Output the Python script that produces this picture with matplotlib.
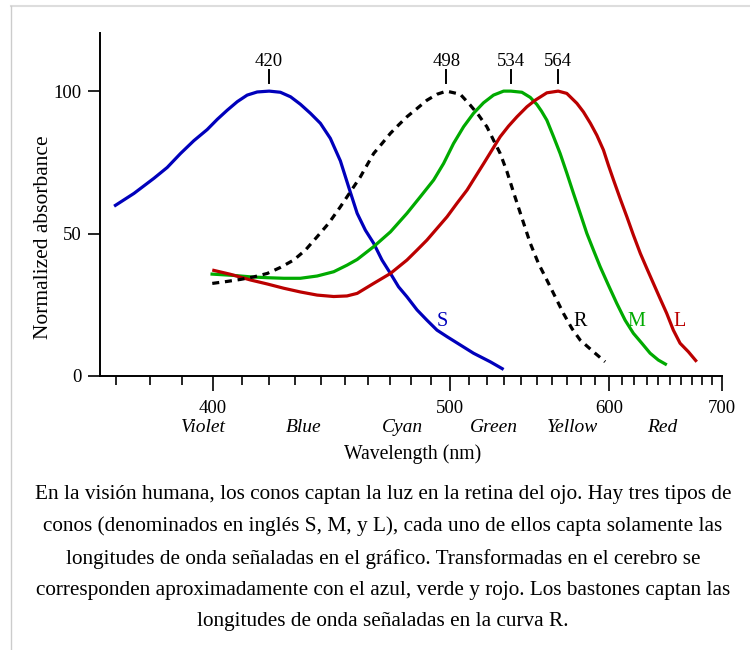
import numpy as np
import matplotlib
matplotlib.use("Agg")
from matplotlib import pyplot as plt
from matplotlib.lines import Line2D
from matplotlib.transforms import blended_transform_factory

plt.rcParams["font.family"] = ["Liberation Serif", "DejaVu Serif"]

# wavelength (nm) / normalized absorbance
s_nm = [369.4, 375.2, 381.2, 385.3, 389.5, 393.8, 398.2, 401.6, 405, 408.5, 412, 415.6,
        420, 424.2, 428.1, 431.9, 435.9, 439.9, 444, 448.2, 451.7, 455.4, 459, 462.7,
        466.5, 470.4, 474.2, 478.2, 483.1, 488, 493.1, 498.3, 505.3, 512.5, 521.9, 529.7]
s_abs = [59.6, 64.1, 69.4, 73.2, 78.1, 82.6, 86.5, 90.1, 93.3, 96.3, 98.6, 99.7,
         100, 99.6, 98, 95.4, 92.2, 88.7, 83.4, 75.5, 66.4, 57.1, 51.2, 46.6,
         40.7, 36, 31.3, 27.8, 23.2, 19.6, 16.1, 13.8, 10.9, 8, 5, 2.3]

r_nm = [399.9, 405, 409.6, 414.4, 419.3, 424.2, 429.3, 433.9, 438.6, 443.3, 448.2, 452.5,
        456.8, 459, 462.7, 466.5, 470.4, 474.2, 478.2, 483.1, 488, 493.1, 498, 505.3,
        510.7, 515.3, 520, 523.8, 527.7, 531.7, 535.6, 540.7, 545.9, 551.1, 556.5, 562,
        567.5, 573.3, 579.1, 588.6, 597.2]
r_abs = [32.5, 33.2, 33.9, 34.8, 36, 38.1, 40.7, 44.2, 48.9, 53.6, 59.4, 64.7,
         69.9, 73, 78.1, 81.6, 85.2, 88.1, 91, 93.9, 96.8, 98.9, 100, 98.9,
         95.1, 91.6, 87.5, 82.8, 78.1, 71.7, 64.5, 55.5, 46.6, 39.5, 33.7, 27.8,
         22, 16.7, 12.6, 8.5, 5]

m_nm = [399.3, 407.3, 413.2, 419.3, 425.5, 431.9, 438.6, 445.4, 451, 455.4, 462.7, 470.4,
        478.2, 484.7, 491.4, 496.5, 501.7, 507.1, 512.5, 518.1, 523.8, 529.7, 534, 540.7,
        545.9, 550.1, 553, 556.5, 560.9, 565.3, 569.9, 574.4, 579.1, 583.8, 588.6, 593.5,
        599.7, 606.1, 612.6, 619.2, 626.1, 633, 640, 647.4]
m_abs = [35.8, 35.3, 34.8, 34.5, 34.3, 34.3, 35.1, 36.6, 38.9, 40.9, 45.4, 50.6,
         57.1, 62.9, 68.8, 74.6, 81.6, 87.5, 92.2, 95.9, 98.6, 100, 100, 99.6,
         97.8, 95.3, 93, 89.8, 84, 78.1, 71.1, 64.1, 57.1, 50.1, 44.2, 38.4,
         31.9, 25.5, 19.6, 15, 11.5, 8, 5.6, 3.9]

l_nm = [399.9, 406.1, 413.2, 419.3, 425.5, 431.9, 438.6, 445.4, 451, 455.4, 462.7, 470.4,
        478.2, 483.1, 488, 493.1, 498.3, 503.5, 509, 513.5, 518.2, 522.9, 527.7, 532.6,
        537.7, 543.8, 549, 556.5, 564, 569.8, 576.8, 581.4, 586.4, 591.1, 596, 599.7,
        603.6, 608.7, 614, 619.2, 624.9, 630.2, 635.8, 641.4, 647.3, 653.2, 659.3, 667,
        674.9]
l_abs = [37.2, 35.7, 33.7, 32.3, 30.8, 29.5, 28.4, 27.9, 28.1, 29, 32.5, 36,
         40.7, 44.2, 47.7, 51.8, 55.9, 60.6, 65.3, 69.9, 74.6, 79.3, 84, 87.7,
         91, 94.5, 96.8, 99.4, 100, 99.2, 95.7, 92.7, 88.7, 84.5, 79.3, 74,
         68.8, 62.3, 55.9, 49.5, 43, 37.8, 32.5, 27.3, 22, 16.1, 11.5, 8.5,
         5]

peaks = [420, 498, 534, 564]
curve_names = ["S", "R", "M", "L"]
name_nm = [496, 579, 622, 659]
colour_names = ["Violet", "Blue", "Cyan", "Green", "Yellow", "Red"]
colour_nm = [397, 433, 476, 524, 573.5, 643]

caption = ("En la visión humana, los conos captan la luz en la retina del ojo. Hay tres tipos de\n"
           "conos (denominados en inglés S, M, y L), cada uno de ellos capta solamente las\n"
           "longitudes de onda señaladas en el gráfico. Transformadas en el cerebro se\n"
           "corresponden aproximadamente con el azul, verde y rojo. Los bastones captan las\n"
           "longitudes de onda señaladas en la curva R.")


def fwd(x):
    x = np.asarray(x, dtype=float)
    with np.errstate(divide="ignore", invalid="ignore"):
        return -1.0 / x


fig = plt.figure(figsize=(7.5, 6.5), dpi=100)
ax = fig.add_axes([100 / 750, 1 - 376 / 650, 622 / 750, 343 / 650])

blue, green, red = "#0000bb", "#00aa00", "#bb0000"
ax.plot(s_nm, s_abs, color=blue, lw=2.3, solid_capstyle="butt", solid_joinstyle="round")
ax.plot(m_nm, m_abs, color=green, lw=2.3, solid_capstyle="butt", solid_joinstyle="round")
ax.plot(l_nm, l_abs, color=red, lw=2.3, solid_capstyle="butt", solid_joinstyle="round")
ax.plot(r_nm, r_abs, color="black", lw=2.3, linestyle=(0, (2.2, 1.8)))

ax.set_xscale("function", functions=(fwd, fwd))
ax.set_xlim(365.4, 700)
ax.set_ylim(0, 120.4)

ax.set_xticks([400, 500, 600, 700])
ax.set_xticks(np.arange(370, 700, 10), minor=True)
ax.set_yticks([0, 50, 100])
ax.tick_params(axis="x", which="major", length=10.5, width=1.2, labelsize=13.5, pad=7)
ax.tick_params(axis="x", which="minor", length=6.5, width=1.2)
ax.tick_params(axis="y", length=9, width=1.2, labelsize=13.5, pad=4)
for side in ("top", "right"):
    ax.spines[side].set_visible(False)
for side in ("left", "bottom"):
    ax.spines[side].set_linewidth(1.4)

ax.set_ylabel("Normalized absorbance", fontsize=15.5)
ax.yaxis.set_label_coords((53 - 100) / 622, (376 - 237) / 343)

# peak markers above the curves
for p in peaks:
    ax.plot([p, p], [103, 107.3], color="black", lw=1.4, clip_on=False)
    ax.text(p, 110.4, str(p), ha="center", va="center", fontsize=13.5)

for name, x, c in zip(curve_names, name_nm, [blue, "black", green, red]):
    ax.text(x, 19, name, ha="center", va="center", color=c, fontsize=14.5)

trans = blended_transform_factory(ax.transData, fig.transFigure)
for name, x in zip(colour_names, colour_nm):
    ax.text(x, 1 - 428 / 650, name, ha="center", va="center", style="italic",
            fontsize=14, transform=trans)
fig.text(413 / 750, 1 - 454 / 650, "Wavelength (nm)", ha="center", va="center", fontsize=14.2)

fig.text(383 / 750, 1 - 558 / 650, caption, ha="center", va="center", fontsize=15.3,
         linespacing=1.86)

# thumbnail frame
fig.add_artist(Line2D([10.5 / 750, 1], [1 - 6 / 650, 1 - 6 / 650], color="#dddddd", lw=1.5,
                      transform=fig.transFigure))
fig.add_artist(Line2D([10.5 / 750, 10.5 / 750], [0, 1 - 6 / 650], color="#cccccc", lw=1.0,
                      transform=fig.transFigure))

fig.savefig("out.png", dpi=100)
